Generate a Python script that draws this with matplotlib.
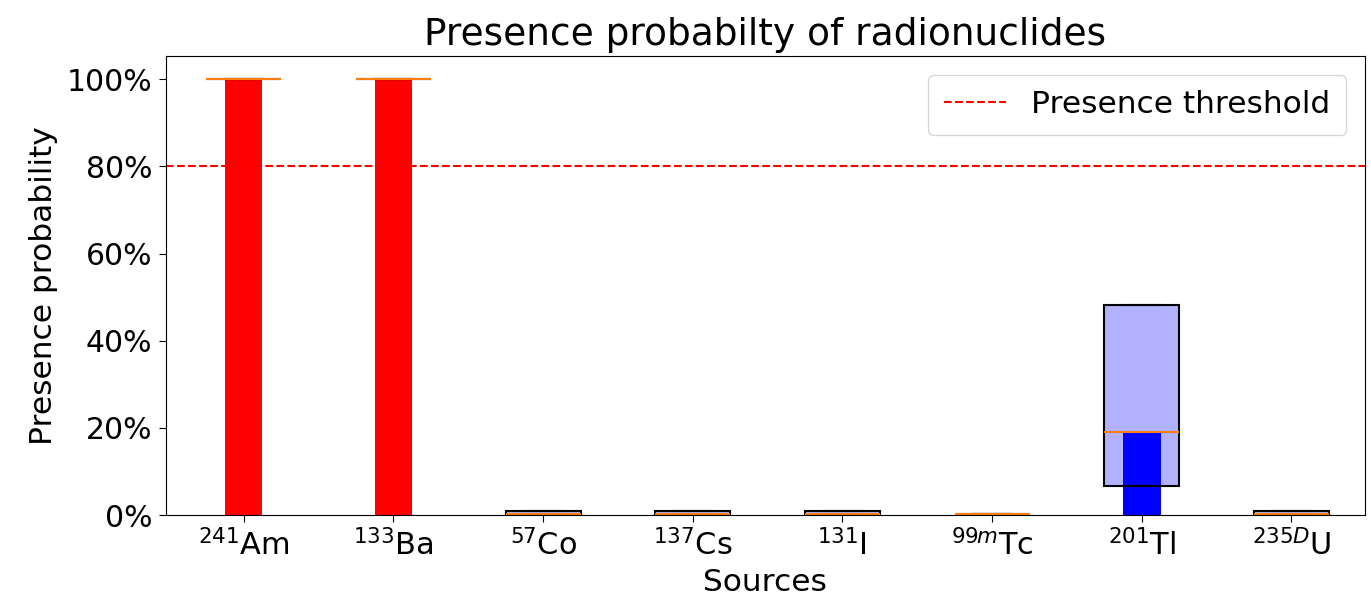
import matplotlib
matplotlib.use("Agg")
import matplotlib.pyplot as plt
from matplotlib.ticker import PercentFormatter

# Radionuclide sources and their presence statistics
sources = [r"$^{241}$Am", r"$^{133}$Ba", r"$^{57}$Co", r"$^{137}$Cs",
           r"$^{131}$I", r"$^{99m}$Tc", r"$^{201}$Tl", r"$^{235D}$U"]
median = [1.00, 1.00, 0.003, 0.002, 0.002, 0.003, 0.19, 0.002]
q1 = [1.00, 1.00, 0.000, 0.000, 0.000, 0.003, 0.067, 0.000]
q3 = [1.00, 1.00, 0.009, 0.009, 0.009, 0.003, 0.483, 0.009]
whisker_low = [1.00, 1.00, 0.000, 0.000, 0.000, 0.003, 0.067, 0.000]
whisker_high = [1.00, 1.00, 0.009, 0.009, 0.009, 0.003, 0.483, 0.009]
threshold = 0.80

fig = plt.figure(figsize=(13.71, 6.06), dpi=100)
ax = fig.add_axes([0.121, 0.150, 0.8745, 0.758])

positions = list(range(len(sources)))
bar_colors = ["red" if m >= threshold else "blue" for m in median]
ax.bar(positions, median, width=0.25, color=bar_colors, zorder=1)

stats = [dict(med=m, q1=a, q3=b, whislo=lo, whishi=hi, fliers=[])
         for m, a, b, lo, hi in zip(median, q1, q3, whisker_low, whisker_high)]
ax.bxp(stats, positions=positions, widths=0.5, patch_artist=True,
       boxprops=dict(facecolor=(0, 0, 1, 0.3), edgecolor="black", linewidth=1.5),
       whiskerprops=dict(linewidth=1.5), capprops=dict(linewidth=1.5),
       medianprops=dict(color="#ff7f0e", linewidth=1.5), zorder=2)

ax.axhline(threshold, color="red", linestyle="--", linewidth=1.5,
           label="Presence threshold")

ax.set_xlim(-0.52, 7.49)
ax.set_ylim(0, 1.054)
ax.set_yticks([0, 0.2, 0.4, 0.6, 0.8, 1.0])
ax.yaxis.set_major_formatter(PercentFormatter(1.0, decimals=0))
ax.set_xticks(positions)
ax.set_xticklabels(sources)
ax.tick_params(axis="y", labelsize=21.5, length=5, pad=5)
ax.tick_params(axis="x", labelsize=22, length=5, pad=5)

ax.set_title("Presence probabilty of radionuclides", fontsize=27, pad=8)
ax.set_xlabel("Sources", fontsize=22.5, labelpad=5)
ax.set_ylabel("Presence probability", fontsize=22.5, labelpad=6)
ax.legend(loc="upper right", fontsize=22.5, handlelength=2.0,
          borderpad=0.5, borderaxespad=0.6)

fig.savefig("out.png", dpi=100)
